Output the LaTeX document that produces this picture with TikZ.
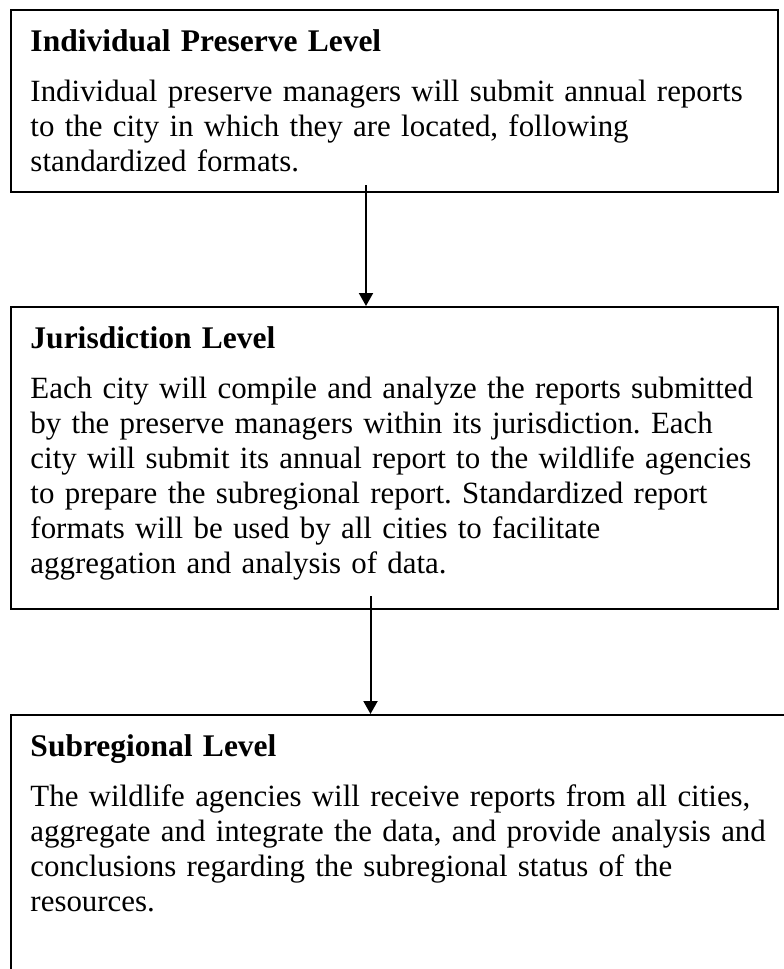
\documentclass[tikz,border=0pt]{standalone}
\usepackage{fontspec}
\setmainfont{Liberation Serif}
\usepackage{tikz}
\usetikzlibrary{arrows.meta,positioning}
\newcommand{\levelhead}[1]{{\fontsize{31.5}{35}\selectfont\bfseries #1}}

\begin{document}
\begin{tikzpicture}[
  x=1pt, y=1pt,
  every node/.style={align=left},
  lvlbox/.style={draw, line width=2pt, anchor=north west, inner xsep=19.5pt,
                 inner ysep=0pt, text width=#1, text height=41pt,
                 font=\fontsize{30.9}{35}\selectfont,
                 execute at begin node={\hyphenpenalty=10000\frenchspacing}},
  arr/.style={-{Triangle[width=14pt,length=13pt]}, line width=2pt}
]

%% Page frame
\useasboundingbox (0,0) rectangle (784,-969);
\clip (0,0) rectangle (784,-969);

%% Levels (top to bottom)
\node[lvlbox=728pt, text depth=141pt] (ind) at (10,-9)
  {\levelhead{Individual Preserve Level}\\[15pt]
   Individual preserve managers will submit annual reports\\
   to the city in which they are located, following\\
   standardized formats.};
\node[lvlbox=728pt, text depth=261pt] (jur) at (10,-306)
  {\levelhead{Jurisdiction Level}\\[15pt]
   Each city will compile and analyze the reports submitted\\
   by the preserve managers within its jurisdiction. Each\\
   city will submit its annual report to the wildlife agencies\\
   to prepare the subregional report. Standardized report\\
   formats will be used by all cities to facilitate\\
   aggregation and analysis of data.};
\node[lvlbox=770pt, text depth=280pt] (sub) at (10,-714)
  {\levelhead{Subregional Level}\\[15pt]
   The wildlife agencies will receive reports from all cities,\\
   aggregate and integrate the data, and provide analysis and\\
   conclusions regarding the subregional status of the\\
   resources.};

%% Reporting arrows
\draw[arr] ([xshift=-28.5pt,yshift=8pt]ind.south) -- ([xshift=-28.5pt]jur.north);
\draw[arr] ([xshift=-24pt,yshift=14pt]jur.south) -- ([xshift=-24pt]jur.south |- sub.north);

\end{tikzpicture}
\end{document}
